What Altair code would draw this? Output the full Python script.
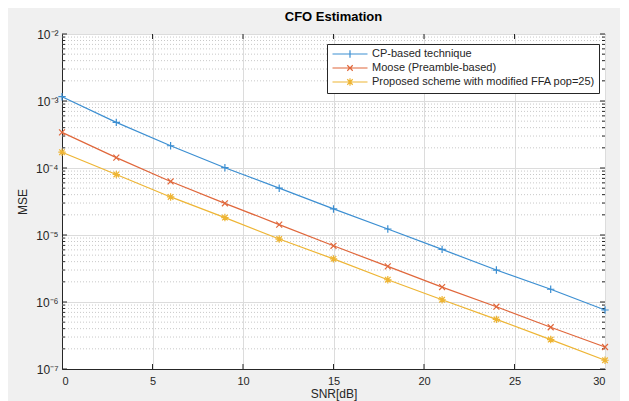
import altair as alt
import pandas as pd

snr = [0, 3, 6, 9, 12, 15, 18, 21, 24, 27, 30]
cp = [1.16e-3, 4.8e-4, 2.15e-4, 1.01e-4, 5.0e-5, 2.45e-5, 1.23e-5, 6.1e-6, 3.0e-6, 1.55e-6, 7.6e-7]
moose = [3.4e-4, 1.43e-4, 6.3e-5, 2.97e-5, 1.43e-5, 6.9e-6, 3.4e-6, 1.67e-6, 8.5e-7, 4.2e-7, 2.13e-7]
proposed = [1.72e-4, 8.0e-5, 3.7e-5, 1.82e-5, 8.7e-6, 4.4e-6, 2.15e-6, 1.08e-6, 5.5e-7, 2.75e-7, 1.35e-7]

series_names = ["CP-based technique", "Moose (Preamble-based)",
                "Proposed scheme with modified FFA pop=25)"]
colors = ["#3C8FD2", "#E0673B", "#EEB534"]

marker_paths = [
    "M-1,0L1,0M0,-1L0,1",
    "M-0.8,-0.8L0.8,0.8M-0.8,0.8L0.8,-0.8",
    "M-1,0L1,0M0,-1L0,1M-0.75,-0.75L0.75,0.75M-0.75,0.75L0.75,-0.75",
]
legend_paths = [
    "M-3.5,0L3.5,0M0,-0.75L0,0.75",
    "M-3.5,0L3.5,0M-0.55,-0.55L0.55,0.55M-0.55,0.55L0.55,-0.55",
    "M-3.5,0L3.5,0M0,-0.75L0,0.75M-0.55,-0.55L0.55,0.55M-0.55,0.55L0.55,-0.55",
]

x_ticks = [0, 5, 10, 15, 20, 25, 30]
decades = [1e-7, 1e-6, 1e-5, 1e-4, 1e-3, 1e-2]
minor = [m * 10.0 ** e for e in range(-7, -2) for m in range(2, 10)]

rows = []
for name, vals in zip(series_names, [cp, moose, proposed]):
    for s, v in zip(snr, vals):
        rows.append({"snr": s, "mse": v, "series": name})
df = pd.DataFrame(rows)

W, H = 543, 335
FONT = "Liberation Sans"
AX = "#262626"

x_scale = alt.Scale(domain=[0, 30], nice=False, zero=False)
y_scale = alt.Scale(type="log", domain=[1e-7, 1e-2], nice=False)

label_expr = ("datum.value > 0.005 ? '10⁻²' : datum.value > 0.0005 ? '10⁻³' : "
              "datum.value > 0.00005 ? '10⁻⁴' : datum.value > 0.000005 ? '10⁻⁵' : "
              "datum.value > 0.0000005 ? '10⁻⁶' : '10⁻⁷'")

x_axis = alt.Axis(values=x_ticks, grid=True, gridColor="#dcdcdc", tickSize=0,
                  labelPadding=6, title="SNR[dB]", titlePadding=2,
                  domainColor=AX, labelColor=AX, titleColor=AX,
                  labelFont=FONT, titleFont=FONT, labelFontSize=11,
                  titleFontSize=12, titleFontWeight="normal")
y_axis = alt.Axis(values=decades, grid=True, gridColor="#dcdcdc", tickSize=0,
                  labelPadding=4, labelExpr=label_expr, title="MSE", titlePadding=6,
                  domainColor=AX, labelColor=AX, titleColor=AX,
                  labelFont=FONT, titleFont=FONT, labelFontSize=12,
                  titleFontSize=12, titleFontWeight="normal")

X = alt.X("snr:Q", scale=x_scale, axis=x_axis)
Y = alt.Y("mse:Q", scale=y_scale, axis=y_axis)

color_scale = alt.Scale(domain=series_names, range=colors)

minor_df = pd.DataFrame({"mse": minor})
dec_df = pd.DataFrame({"mse": decades})
xt_df = pd.DataFrame({"snr": x_ticks[1:-1]})

minor_grid = alt.Chart(minor_df).mark_rule(color="#c8c8c8", strokeDash=[1, 2], strokeWidth=1).encode(
    y=Y, x=alt.value(0), x2=alt.value(W))

minor_tick_l = alt.Chart(minor_df).mark_rule(color=AX).encode(y=Y, x=alt.value(0), x2=alt.value(3))
minor_tick_r = alt.Chart(minor_df).mark_rule(color=AX).encode(y=Y, x=alt.value(W - 3), x2=alt.value(W))
maj_tick_l = alt.Chart(dec_df).mark_rule(color=AX).encode(y=Y, x=alt.value(0), x2=alt.value(5))
maj_tick_r = alt.Chart(dec_df).mark_rule(color=AX).encode(y=Y, x=alt.value(W - 5), x2=alt.value(W))
xt_b = alt.Chart(xt_df).mark_rule(color=AX).encode(x=X, y=alt.value(H - 5), y2=alt.value(H))
xt_t = alt.Chart(xt_df).mark_rule(color=AX).encode(x=X, y=alt.value(0), y2=alt.value(5))

base = alt.Chart(df)
lines = base.mark_line(strokeWidth=1.2).encode(
    x=X, y=Y, color=alt.Color("series:N", scale=color_scale, legend=None))
points = base.mark_point(filled=False, size=55, strokeWidth=1.2, opacity=1).encode(
    x=X, y=Y,
    color=alt.Color("series:N", scale=color_scale, legend=None),
    shape=alt.Shape("series:N", scale=alt.Scale(domain=series_names, range=marker_paths), legend=None))

leg = alt.Legend(orient="none", legendX=265, legendY=10, title=None,
                 symbolSize=100, symbolOffset=13, labelOffset=16,
                 symbolOpacity=1, symbolStrokeWidth=1.2,
                 fillColor="white", strokeColor=AX, padding=4, labelLimit=400,
                 labelFont=FONT, labelFontSize=11, labelColor=AX, rowPadding=1)
legend_layer = base.mark_point(filled=False, opacity=0).encode(
    x=X, y=Y,
    color=alt.Color("series:N", scale=color_scale, legend=leg),
    shape=alt.Shape("series:N", scale=alt.Scale(domain=series_names, range=legend_paths), legend=leg))

chart = alt.layer(
    minor_grid, minor_tick_l, minor_tick_r, maj_tick_l, maj_tick_r, xt_b, xt_t,
    lines, points, legend_layer
).resolve_scale(color="independent", shape="independent").properties(
    width=W, height=H,
    title=alt.TitleParams("CFO Estimation", font=FONT, fontSize=13, fontWeight="bold",
                          color="#000000", offset=4),
    autosize=alt.AutoSizeParams(type="none"),
    padding={"left": 54, "top": 26, "right": 15, "bottom": 32},
    background="#f0f0f0",
).configure_view(stroke=AX, strokeWidth=1, fill="white")

chart.save("out.html", embed_options={"renderer": "svg", "actions": False})
